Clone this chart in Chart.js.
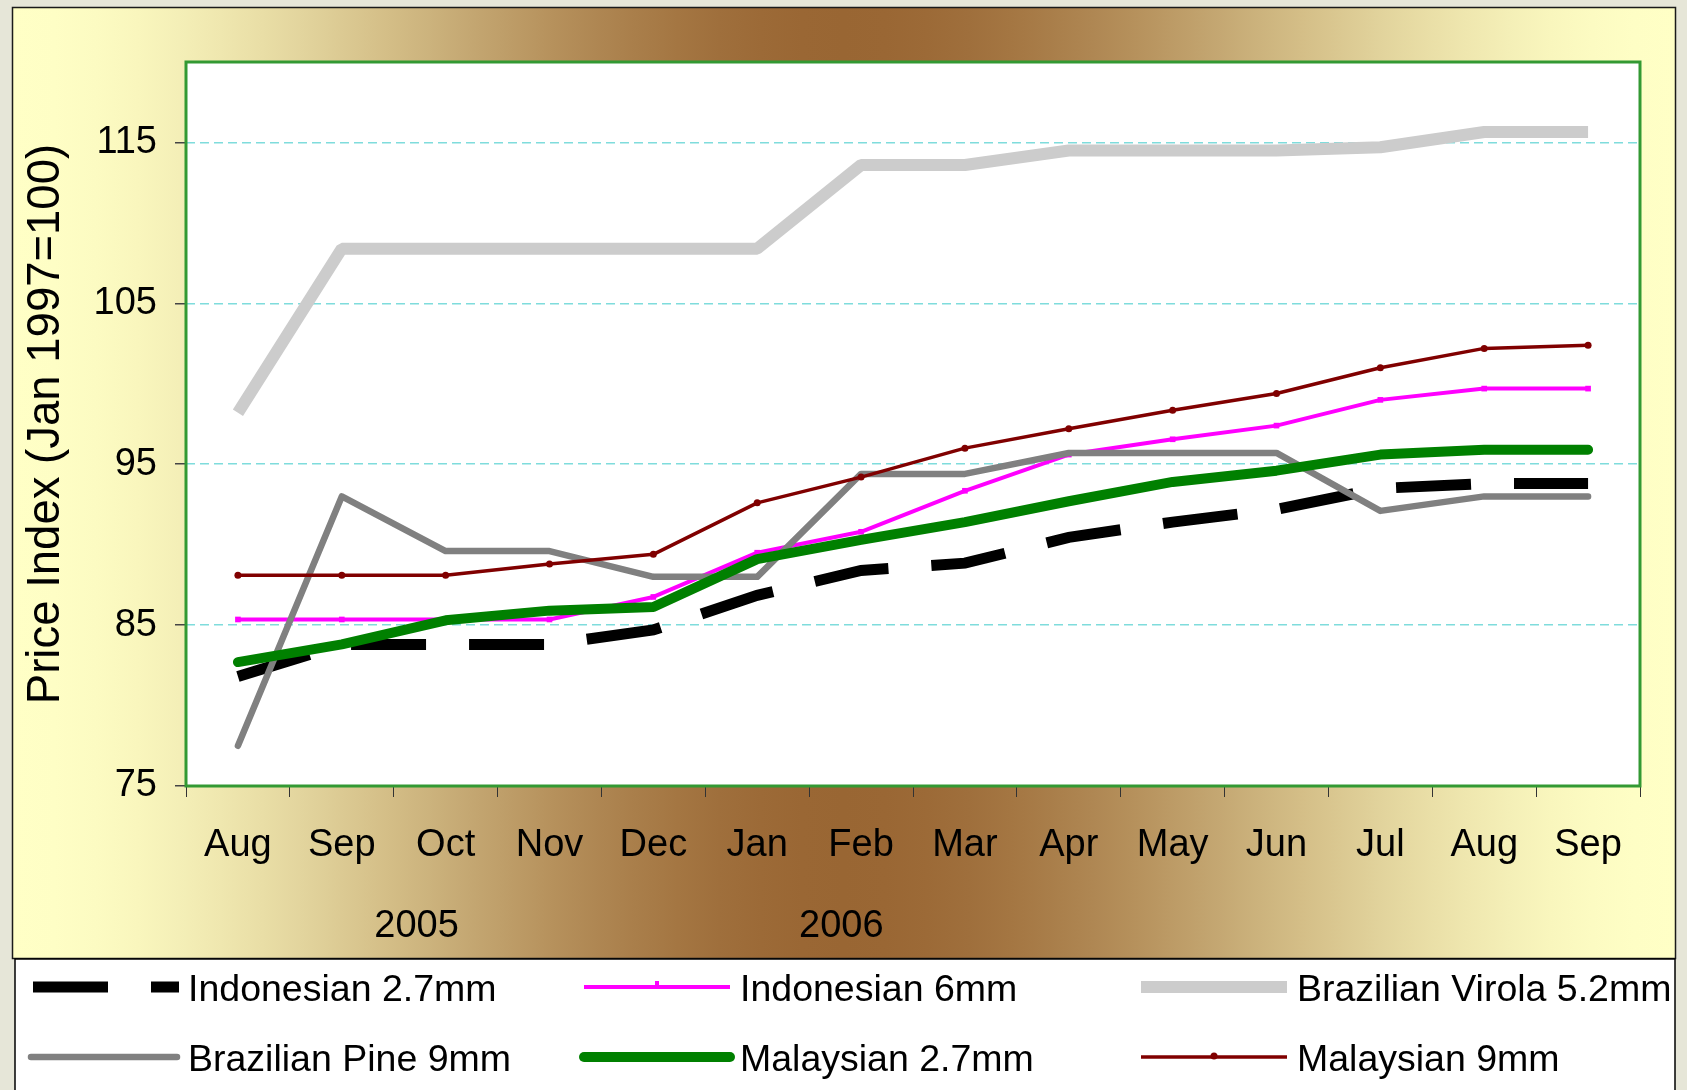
<!DOCTYPE html>
<html>
<head>
<meta charset="utf-8">
<script src="https://cdn.jsdelivr.net/npm/chart.js@4.4.1/dist/chart.umd.min.js"></script>
<style>
  html, body { margin: 0; padding: 0; background: #e6e6d8; }
  #wrap { position: relative; width: 1687px; height: 1090px; overflow: hidden; }
</style>
</head>
<body>
<div id="wrap"><canvas id="myChart" width="1687" height="1090"></canvas></div>
<script>
// months along the x axis, and the year labels under them
const months = ["Aug", "Sep", "Oct", "Nov", "Dec", "Jan", "Feb", "Mar", "Apr", "May", "Jun", "Jul", "Aug", "Sep"];
const years = ["2005", "2006"];
const yTicks = [75, 85, 95, 105, 115];

const seriesNames = ["Indonesian 2.7mm", "Indonesian 6mm", "Brazilian Virola 5.2mm", "Brazilian Pine 9mm", "Malaysian 2.7mm", "Malaysian 9mm"];
const indonesian27 = [81.8, 83.8, 83.8, 83.8, 84.7, 86.85, 88.4, 88.85, 90.45, 91.4, 92.2, 93.5, 93.8, 93.8];
const indonesian6 = [85.35, 85.35, 85.35, 85.35, 86.75, 89.5, 90.8, 93.35, 95.6, 96.55, 97.4, 99.0, 99.7, 99.7];
const brazilianVirola = [98.2, 108.4, 108.4, 108.4, 108.4, 108.4, 113.6, 113.6, 114.5, 114.5, 114.5, 114.7, 115.65, 115.65];
const brazilianPine = [77.5, 93.0, 89.6, 89.6, 88.0, 88.0, 94.4, 94.4, 95.7, 95.7, 95.7, 92.1, 93.0, 93.0];
const malaysian27 = [82.7, 83.8, 85.3, 85.9, 86.13, 89.1, 90.3, 91.4, 92.7, 93.9, 94.6, 95.6, 95.9, 95.9];
const malaysian9 = [88.1, 88.1, 88.1, 88.8, 89.4, 92.6, 94.2, 96.0, 97.2, 98.35, 99.4, 101.0, 102.2, 102.4];

// where the year labels sit (in category index units) and where legend items go
const yearSpots = [1.72, 5.81];
const legendSpots = [
  { x: 33, y: 987, tx: 188 }, { x: 584, y: 987, tx: 740 }, { x: 1141, y: 987, tx: 1297 },
  { x: 31, y: 1057, tx: 188 }, { x: 584, y: 1057, tx: 740 }, { x: 1141, y: 1057, tx: 1297 }
];

const FONT = "'Liberation Sans', Arial, sans-serif";
Chart.defaults.font.family = FONT;

const edgeColor = [255, 255, 198];
const midColor = [153, 102, 51];

// yellow -> brown -> yellow, eased like the office gradient fill
function backGradient(ctx, x0, x1) {
  let g = ctx.createLinearGradient(x0, 0, x1, 0);
  for (let i = 0; i <= 40; i++) {
    let t = i / 40;
    let u = 1 - Math.abs(t - 0.5) * 2;
    let s = u * u * (3 - 2 * u);
    let c = edgeColor.map((e, k) => Math.round(e + (midColor[k] - e) * s));
    g.addColorStop(t, "rgb(" + c.join(",") + ")");
  }
  return g;
}

const framePlugin = {
  id: "frame",
  beforeDraw(chart) {
    const ctx = chart.ctx;
    const a = chart.chartArea;
    ctx.save();
    ctx.fillStyle = "#e6e6d8";
    ctx.fillRect(0, 0, chart.width, chart.height);
    ctx.fillStyle = backGradient(ctx, 13, 1675);
    ctx.fillRect(13, 8, 1662, 951);
    ctx.strokeStyle = "#1a1a1a";
    ctx.lineWidth = 1.5;
    ctx.strokeRect(12.5, 7.5, 1663, 951);
    ctx.fillStyle = "#ffffff";
    ctx.fillRect(a.left, a.top, a.right - a.left, a.bottom - a.top);
    ctx.restore();
  },
  beforeDatasetsDraw(chart) {
    const ctx = chart.ctx;
    const a = chart.chartArea;
    ctx.save();
    ctx.strokeStyle = "#339933";
    ctx.lineWidth = 3;
    ctx.strokeRect(a.left, a.top, a.right - a.left, a.bottom - a.top);
    ctx.restore();
  },
  afterDraw(chart) {
    const ctx = chart.ctx;
    const xs = chart.scales.x;
    ctx.save();
    // year labels
    ctx.fillStyle = "#000";
    ctx.font = "38px " + FONT;
    ctx.textAlign = "center";
    ctx.textBaseline = "alphabetic";
    years.forEach((y, i) => ctx.fillText(y, xs.getPixelForValue(yearSpots[i]), 937));

    // legend box
    ctx.fillStyle = "#ffffff";
    ctx.fillRect(15, 959, 1660, 140);
    ctx.strokeStyle = "#000";
    ctx.lineWidth = 1.5;
    ctx.strokeRect(15, 959, 1660, 140);

    chart.data.datasets.forEach((ds, i) => {
      const p = legendSpots[i];
      ctx.save();
      ctx.beginPath();
      ctx.strokeStyle = ds.borderColor;
      ctx.lineWidth = ds.borderWidth;
      ctx.lineCap = ds.borderCapStyle || "butt";
      ctx.setLineDash(ds.borderDash || []);
      ctx.moveTo(p.x, p.y);
      ctx.lineTo(p.x + 146, p.y);
      ctx.stroke();
      ctx.setLineDash([]);
      if (ds.pointRadius > 0) {
        ctx.fillStyle = ds.borderColor;
        ctx.beginPath();
        if (ds.pointStyle === "rect") {
          ctx.fillRect(p.x + 73 - 2, p.y - 6, 4, 8);
        } else {
          ctx.arc(p.x + 73, p.y - 1, 3.5, 0, Math.PI * 2);
          ctx.fill();
        }
      }
      ctx.restore();
      ctx.fillStyle = "#000";
      ctx.font = "37.5px " + FONT;
      ctx.textAlign = "left";
      ctx.textBaseline = "alphabetic";
      ctx.fillText(seriesNames[i], p.tx, p.y + 14);
    });
    ctx.restore();
  }
};

function line(idx, data, color, width, extra) {
  return Object.assign({
    label: seriesNames[idx],
    data: data,
    borderColor: color,
    backgroundColor: color,
    borderWidth: width,
    pointRadius: 0,
    tension: 0,
    fill: false,
    borderJoinStyle: "round",
    order: 10 - idx
  }, extra || {});
}

const ctx = document.getElementById("myChart").getContext("2d");
new Chart(ctx, {
  type: "line",
  data: {
    labels: months,
    datasets: [
      line(0, indonesian27, "#000000", 11, { borderDash: [75, 43], borderJoinStyle: "miter" }),
      line(1, indonesian6, "#ff00ff", 4, { pointRadius: 4, pointStyle: "rect", pointBorderWidth: 0 }),
      line(2, brazilianVirola, "#cccccc", 12, { borderJoinStyle: "bevel" }),
      line(3, brazilianPine, "#808080", 6.5, { borderCapStyle: "round" }),
      line(4, malaysian27, "#008000", 10, { borderCapStyle: "round" }),
      line(5, malaysian9, "#800000", 3.5, { pointRadius: 3.5, pointStyle: "circle", pointBorderWidth: 0 })
    ]
  },
  options: {
    responsive: false,
    animation: false,
    layout: { padding: { left: 0, top: 62, right: 47, bottom: 204 } },
    plugins: {
      legend: { display: false },
      tooltip: { enabled: false }
    },
    scales: {
      x: {
        type: "category",
        offset: true,
        grid: {
          offset: true,
          drawOnChartArea: false,
          drawTicks: true,
          tickLength: 11,
          tickColor: "#333333",
          lineWidth: 1
        },
        border: { display: false },
        ticks: {
          color: "#000",
          font: { size: 38 },
          padding: 26,
          maxRotation: 0,
          autoSkip: false
        },
        afterFit(scale) { scale.height = 100; }
      },
      y: {
        min: 75,
        max: 120,
        afterBuildTicks(scale) {
          scale.ticks = yTicks.map((v) => ({ value: v }));
        },
        grid: {
          color: (c) => (c.tick && c.tick.value === 75 ? "rgba(0,0,0,0)" : "#7fdcdc"),
          lineWidth: 1.5,
          tickColor: "#444444",
          tickLength: 11,
          tickBorderDash: []
        },
        border: { display: false, dash: [9, 5] },
        ticks: {
          color: "#000",
          font: { size: 38 },
          padding: 18
        },
        title: {
          display: true,
          text: "Price Index (Jan 1997=100)",
          color: "#000",
          font: { size: 45.5 },
          padding: { top: 19, bottom: 0 }
        },
        afterFit(scale) { scale.width = 186; }
      }
    }
  },
  plugins: [framePlugin]
});
</script>
</body>
</html>
